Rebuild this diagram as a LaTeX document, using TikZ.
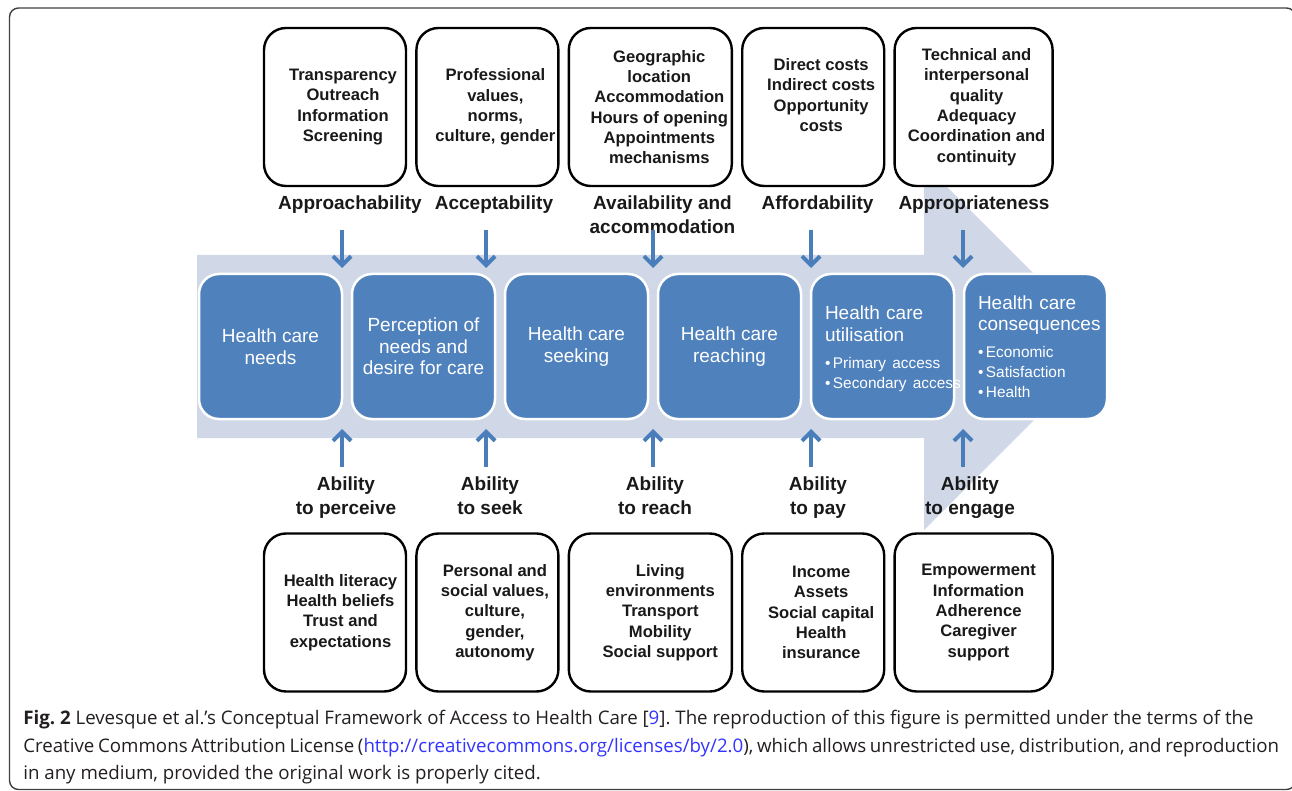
\documentclass[tikz,border=0pt]{standalone}
\usepackage{fontspec}
\setmainfont{Liberation Sans}
\newfontfamily\capfont{Open Sans}
\usetikzlibrary{positioning,arrows.meta}
\frenchspacing

\definecolor{boxblue}{RGB}{79,129,189}
\definecolor{shaftblue}{RGB}{208,216,232}
\definecolor{arrowblue}{RGB}{74,126,187}
\definecolor{linkblue}{RGB}{51,51,255}
\definecolor{captext}{RGB}{35,31,32}

\begin{document}
\begin{tikzpicture}[x=1pt, y=-1pt, semithick,
    factor/.style={draw, line width=2.4pt, fill=white, rounded corners=22pt,
      minimum width=142pt, minimum height=158pt, inner sep=0pt},
    factortext/.style={inner sep=0pt, align=center, text=black!90,
      font=\bfseries\fontsize{16.6}{20.3}\selectfont},
    dim/.style={anchor=north, inner sep=0pt, align=center, text=black!90,
      font=\bfseries\fontsize{19}{24}\selectfont},
    stage/.style={draw=white, line width=2.5pt, fill=boxblue, rounded corners=20pt,
      minimum width=143pt, minimum height=145pt, inner sep=0pt, align=center,
      text=white, font=\fontsize{19}{21.5}\selectfont},
    stagelist/.style={stage, align=left, text width=115pt, inner xsep=14pt},
    access/.style={draw=arrowblue, line width=4pt, -{Straight Barb[length=9pt,width=18pt]}},
    caption/.style={inner sep=0pt, align=left, text=captext,
      font=\capfont\fontsize{18.7}{27.5}\selectfont}]

  \useasboundingbox (0,0) rectangle (1292,791);

  % frame round the figure
  \draw[line width=1.4pt, black!75, rounded corners=9pt] (9.5,8) rectangle (1295.5,789.5);

  % the big light arrow behind the stages
  \fill[shaftblue] (197,255) -- (924,255) -- (924,164) -- (1107,347)
    -- (924,530) -- (924,438) -- (197,438) -- cycle;

  % supply side
  \node[factor] (t1) at (335,107) {};
  \node[factor, right=8pt of t1] (t2) {};
  \node[factor, minimum width=163pt, right=8pt of t2] (t3) {};
  \node[factor, right=8pt of t3] (t4) {};
  \node[factor, minimum width=158pt, right=8pt of t4] (t5) {};

  \node[factortext] (t1x) at ([xshift=8pt]t1.center) {Transparency\\Outreach\\Information\\Screening};
  \node[factortext] (t2x) at ([xshift=8pt]t2.center) {Professional\\values,\\norms,\\culture, gender};
  \node[factortext] (t3x) at ([xshift=9pt]t3.center) {Geographic\\location\\Accommodation\\Hours of opening\\Appointments\\mechanisms};
  \node[factortext] (t4x) at ([xshift=8pt,yshift=12pt]t4.center) {Direct costs\\Indirect costs\\Opportunity\\costs};
  \node[factortext] (t5x) at ([xshift=3pt]t5.center) {Technical and\\interpersonal\\quality\\Adequacy\\Coordination and\\continuity};

  \node[dim] (lt1) at (350,195.5) {Approachability};
  \node[dim] (lt2) at (494,195.5) {Acceptability};
  \node[dim] (lt3) at (662.5,195.5) {Availability and\\accommodation};
  \node[dim] (lt4) at (817.5,195.5) {Affordability};
  \node[dim] (lt5) at (974,195.5) {Appropriateness};

  % demand side
  \node[factor] (b1) at (335,612.5) {};
  \node[factor, right=8pt of b1] (b2) {};
  \node[factor, minimum width=163pt, right=8pt of b2] (b3) {};
  \node[factor, right=8pt of b3] (b4) {};
  \node[factor, minimum width=158pt, right=8pt of b4] (b5) {};

  \node[factortext] (b1x) at ([xshift=5.5pt]b1.center) {Health literacy\\Health beliefs\\Trust and\\expectations};
  \node[factortext] (b2x) at ([xshift=7.5pt]b2.center) {Personal and\\social values,\\culture,\\gender,\\autonomy};
  \node[factortext] (b3x) at ([xshift=10pt]b3.center) {Living\\environments\\Transport\\Mobility\\Social support};
  \node[factortext] (b4x) at ([xshift=8pt]b4.center) {Income\\Assets\\Social capital\\Health\\insurance};
  \node[factortext] (b5x) at ([xshift=5pt]b5.center) {Empowerment\\Information\\Adherence\\Caregiver\\support};

  \node[dim] (lb1) at (346,476.5) {Ability\\to perceive};
  \node[dim] (lb2) at (490,476.5) {Ability\\to seek};
  \node[dim] (lb3) at (655,476.5) {Ability\\to reach};
  \node[dim] (lb4) at (818,476.5) {Ability\\to pay};
  \node[dim] (lb5) at (970,476.5) {Ability\\to engage};

  % stages of access
  \node[stage] (s1) at (270.5,346.5) {Health care\\needs};
  \node[stage, right=7.5pt of s1] (s2) {Perception of\\needs and\\desire for care};
  \node[stage, right=7.5pt of s2] (s3) {Health care\\seeking};
  \node[stage, right=7.5pt of s3] (s4) {Health care\\reaching};
  \node[stagelist, right=7.5pt of s4] (s5) {\rule{0pt}{19pt}Health care\\utilisation\\[6pt]{\fontsize{15.4}{20}\selectfont\mbox{•\,Primary access}}\\[-1.5pt]{\fontsize{15.4}{20}\selectfont\mbox{•\,Secondary access}}};
  \node[stagelist, right=7.5pt of s5] (s6) {Health care\\consequences\\[5pt]{\fontsize{15.4}{20}\selectfont •\,Economic}\\[-1.5pt]{\fontsize{15.4}{20}\selectfont •\,Satisfaction}\\[-1.5pt]{\fontsize{15.4}{20}\selectfont •\,Health}};

  % arrows in and out
  \coordinate (d1) at (342,230); \coordinate (e1) at (342,268);
  \coordinate (d2) at (486,230); \coordinate (e2) at (486,268);
  \coordinate (d3) at (653,230); \coordinate (e3) at (653,268);
  \coordinate (d4) at (811,230); \coordinate (e4) at (811,268);
  \coordinate (d5) at (963,230); \coordinate (e5) at (963,268);
  \coordinate (u1) at (342,467); \coordinate (v1) at (342,429);
  \coordinate (u2) at (486,467); \coordinate (v2) at (486,429);
  \coordinate (u3) at (653,467); \coordinate (v3) at (653,429);
  \coordinate (u4) at (811,467); \coordinate (v4) at (811,429);
  \coordinate (u5) at (963,467); \coordinate (v5) at (963,429);

  \draw[access] (d1) -- (e1);
  \draw[access] (d2) -- (e2);
  \draw[access] (d3) -- (e3);
  \draw[access] (d4) -- (e4);
  \draw[access] (d5) -- (e5);
  \draw[access] (u1) -- (v1);
  \draw[access] (u2) -- (v2);
  \draw[access] (u3) -- (v3);
  \draw[access] (u4) -- (v4);
  \draw[access] (u5) -- (v5);

  % caption
  \node[caption, anchor=north west] (cap) at (23,710) {\textbf{Fig. 2} Levesque et al.’s Conceptual Framework of Access to Health Care [{\color{linkblue}9}]. The reproduction of this figure is permitted under the terms of the\\{\spaceskip=3.7pt\relax Creative Commons Attribution License ({\color{linkblue}http://creativecommons.org/licenses/by/2.0}), which allows unrestricted use, distribution, and reproduction}\\in any medium, provided the original work is properly cited.};

\end{tikzpicture}
\end{document}
